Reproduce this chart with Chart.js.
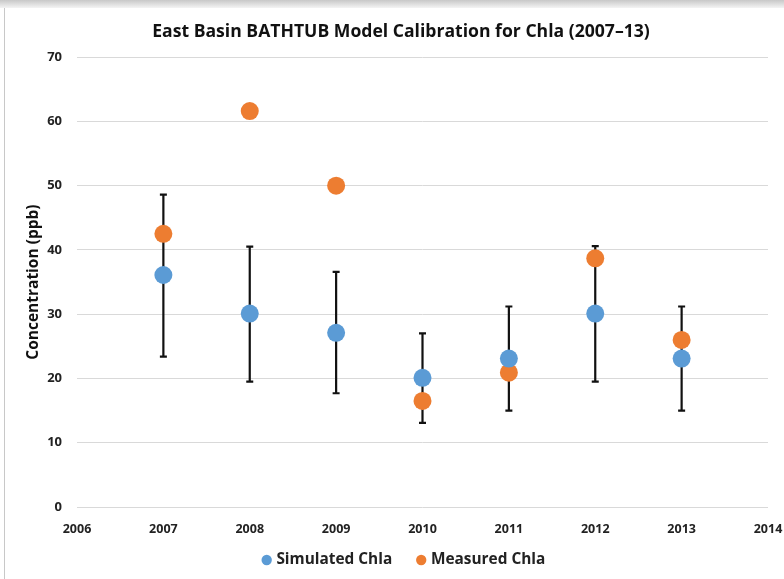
<!DOCTYPE html>
<html>
<head>
<meta charset="utf-8">
<script src="https://cdn.jsdelivr.net/npm/chart.js@4/dist/chart.umd.min.js"></script>
<style>
  html, body { margin: 0; padding: 0; background: #fff; }
  #wrap { position: relative; width: 784px; height: 579px; overflow: hidden; }
  #topband { position: absolute; left: 0; top: 0; width: 784px; height: 8px;
    background: linear-gradient(#c8c8c8, #f4f4f4); }
  #leftline { position: absolute; left: 4px; top: 8px; width: 1px; height: 571px; background: #c8c8c8; }
  canvas { position: absolute; left: 0; top: 0; }
</style>
</head>
<body>
<div id="wrap">
  <div id="topband"></div>
  <div id="leftline"></div>
  <canvas id="c" width="784" height="579"></canvas>
</div>
<script>
const years = [2007, 2008, 2009, 2010, 2011, 2012, 2013];
const simulated = [36.1, 30.1, 27.1, 20.1, 23.1, 30.1, 23.1];
const measured = [42.5, 61.6, 50.0, 16.5, 20.9, 38.7, 26.0];
const errLow = [23.4, 19.5, 17.7, 13.1, 15.0, 19.5, 15.0];
const errHigh = [48.6, 40.5, 36.6, 27.0, 31.2, 40.6, 31.2];
const xTicks = [2006, 2007, 2008, 2009, 2010, 2011, 2012, 2013, 2014];
const yTicks = [0, 10, 20, 30, 40, 50, 60, 70];

const errorBars = {
  id: 'errorBars',
  beforeDatasetsDraw(chart) {
    const ctx = chart.ctx, xs = chart.scales.x, ys = chart.scales.y;
    ctx.save();
    ctx.strokeStyle = '#111';
    ctx.lineWidth = 2.2;
    years.forEach((yr, i) => {
      const x = xs.getPixelForValue(yr);
      const y1 = ys.getPixelForValue(errLow[i]);
      const y2 = ys.getPixelForValue(errHigh[i]);
      ctx.beginPath();
      ctx.moveTo(x, y1); ctx.lineTo(x, y2);
      ctx.moveTo(x - 3.5, y1); ctx.lineTo(x + 3.5, y1);
      ctx.moveTo(x - 3.5, y2); ctx.lineTo(x + 3.5, y2);
      ctx.stroke();
    });
    ctx.restore();
  }
};

// nudge the legend row and title block (keeps wide item spacing while matching positions)
const blockNudge = {
  id: 'blockNudge',
  afterLayout(chart) {
    const lg = chart.legend;
    if (lg) { lg.top -= 12.7; lg.bottom -= 12.7; lg.left += 9; lg.right += 9; }
    const tb = chart.titleBlock;
    if (tb) { tb.left += 5; tb.right += 5; }
  }
};

const font = "'Open Sans', 'Liberation Sans', sans-serif";
new Chart(document.getElementById('c'), {
  type: 'scatter',
  data: {
    datasets: [
      { label: 'Simulated Chla', data: years.map((x, i) => ({ x, y: simulated[i] })),
        backgroundColor: '#5B9BD5', borderColor: '#5B9BD5', pointRadius: 9, pointHoverRadius: 9, borderWidth: 0 },
      { label: 'Measured Chla', data: years.map((x, i) => ({ x, y: measured[i] })),
        backgroundColor: '#ED7D31', borderColor: '#ED7D31', pointRadius: 9, pointHoverRadius: 9, borderWidth: 0 }
    ]
  },
  options: {
    responsive: false,
    animation: false,
    layout: { padding: { left: 24, right: 16, top: 6, bottom: -11.4 } },
    plugins: {
      title: { display: true, text: 'East Basin BATHTUB Model Calibration for Chla (2007–13)',
        color: '#111', font: { family: font, size: 17.6, weight: 'bold' }, padding: { top: 15, bottom: 15 } },
      legend: { position: 'bottom', labels: { usePointStyle: true, pointStyle: 'circle', boxWidth: 4, boxHeight: 7.3,
        color: '#222', font: { family: font, size: 15.4, weight: 'bold' }, padding: 27 } },
      tooltip: { enabled: false }
    },
    scales: {
      x: { type: 'linear', min: 2006, max: 2014,
        afterBuildTicks: (s) => { s.ticks = xTicks.map(v => ({ value: v })); },
        afterFit: (s) => { s.height = 31; s.paddingLeft = 0; s.paddingRight = 0; },
        grid: { display: false, drawTicks: false }, border: { display: false },
        ticks: { color: '#222', font: { family: font, size: 12.5, weight: 'bold' }, padding: 15,
          callback: (v) => String(v) } },
      y: { min: 0, max: 70,
        afterBuildTicks: (s) => { s.ticks = yTicks.map(v => ({ value: v })); },
        afterFit: (s) => { s.width = 53; },
        grid: { color: '#d9d9d9', lineWidth: 1, drawTicks: false }, border: { display: false },
        title: { display: true, text: 'Concentration (ppb)', color: '#111',
          font: { family: font, size: 15.5, weight: 'bold' }, padding: { top: 0, bottom: 5 } },
        ticks: { color: '#222', font: { family: font, size: 13, weight: 'bold' }, padding: 15 } }
    }
  },
  plugins: [errorBars, blockNudge]
});
</script>
</body>
</html>
